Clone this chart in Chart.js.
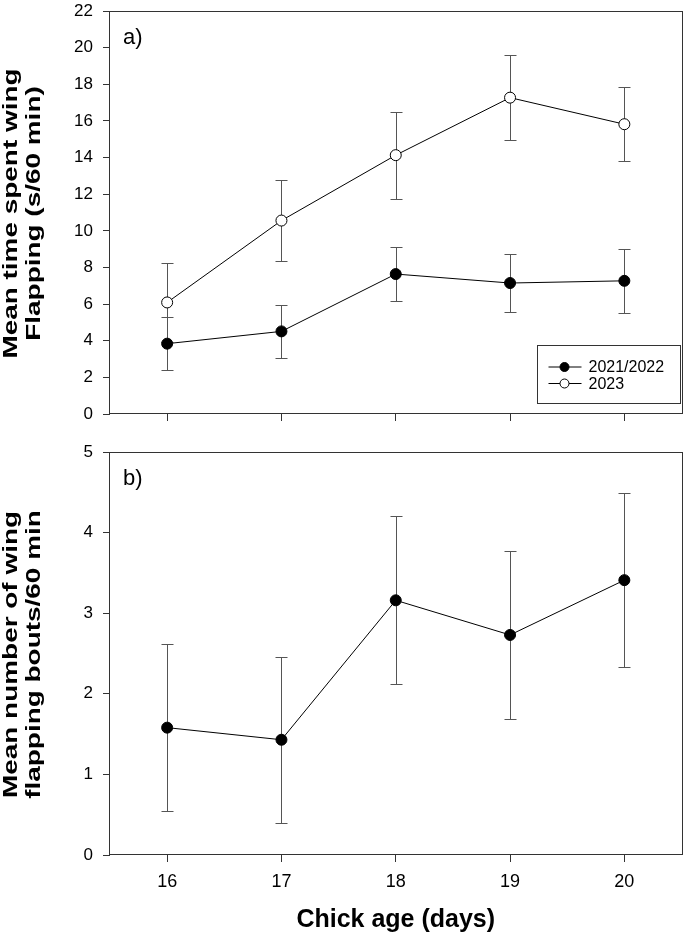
<!DOCTYPE html>
<html>
<head>
<meta charset="utf-8">
<script src="https://cdn.jsdelivr.net/npm/chart.js@4.4.1/dist/chart.umd.min.js"></script>
<style>
  body { margin: 0; background: #fff; }
  #wrap { position: relative; width: 688px; height: 939px; background: #fff; }
  canvas { position: absolute; left: 0; }
</style>
</head>
<body>
<div id="wrap">
  <canvas id="chart-a" width="688" height="440" style="top:0px"></canvas>
  <canvas id="chart-b" width="688" height="499" style="top:440px"></canvas>
</div>
<script>
// chick age (days)
const days = [16, 17, 18, 19, 20];

// panel a: time spent wing flapping (s/60 min), mean and error
const flapTime2122 = [3.84, 4.51, 7.64, 7.15, 7.27];
const flapTime2122Err = [1.45, 1.44, 1.49, 1.56, 1.73];
const flapTime2023 = [6.09, 10.56, 14.13, 17.27, 15.82];
const flapTime2023Err = [2.15, 2.20, 2.38, 2.33, 2.03];

// panel b: number of flapping bouts / 60 min
const bouts = [1.58, 1.43, 3.16, 2.73, 3.41];
const boutsErr = [1.04, 1.03, 1.04, 1.04, 1.08];

const ticksA = [0, 2, 4, 6, 8, 10, 12, 14, 16, 18, 20, 22];
const ticksB = [0, 1, 2, 3, 4, 5];
const seriesNames = ['2021/2022', '2023'];

const toPoints = vals => days.map((d, i) => ({ x: d, y: vals[i] }));

// vertical error bars with caps, drawn under the markers
const errorBars = {
    id: 'errorBars',
    beforeDatasetsDraw(chart) {
        const ctx = chart.ctx;
        const xs = chart.scales.x, ys = chart.scales.y;
        ctx.save();
        ctx.strokeStyle = '#555';
        ctx.lineWidth = 1;
        chart.data.datasets.forEach(ds => {
            ds.data.forEach((pt, i) => {
                const err = ds.errors[i];
                const px = Math.round(xs.getPixelForValue(pt.x)) + 0.5;
                const top = Math.round(ys.getPixelForValue(pt.y + err)) + 0.5;
                const bot = Math.round(ys.getPixelForValue(pt.y - err)) + 0.5;
                ctx.beginPath();
                ctx.moveTo(px, top); ctx.lineTo(px, bot);
                ctx.moveTo(px - 6, top); ctx.lineTo(px + 6, top);
                ctx.moveTo(px - 6, bot); ctx.lineTo(px + 6, bot);
                ctx.stroke();
            });
        });
        ctx.restore();
    }
};

// box round the plot area
const frame = {
    id: 'frame',
    beforeDatasetsDraw(chart) {
        const { left, top, right, bottom } = chart.chartArea;
        const ctx = chart.ctx;
        ctx.save();
        ctx.strokeStyle = '#333';
        ctx.lineWidth = 1;
        ctx.strokeRect(Math.round(left) - 0.5, Math.round(top) + 0.5,
            Math.round(right - left) + 1, Math.round(bottom - top) - 1);
        ctx.restore();
    }
};

// "a)" / "b)" in the corner
const panelLabel = {
    id: 'panelLabel',
    afterDraw(chart, args, opts) {
        const ctx = chart.ctx;
        ctx.save();
        ctx.fillStyle = '#000';
        ctx.font = "22px 'Liberation Sans', Arial, sans-serif";
        ctx.textBaseline = 'alphabetic';
        ctx.fillText(opts.text, chart.chartArea.left + 13, chart.chartArea.top + 33);
        ctx.restore();
    }
};

// two-line bold y title, stretched along its length like the original
const yTitle = {
    id: 'yTitle',
    afterDraw(chart, args, opts) {
        const ctx = chart.ctx;
        const cy = (chart.chartArea.top + chart.chartArea.bottom) / 2;
        ctx.save();
        ctx.fillStyle = '#000';
        ctx.font = "bold 21px 'Liberation Sans', Arial, sans-serif";
        ctx.textAlign = 'center';
        ctx.textBaseline = 'alphabetic';
        opts.lines.forEach((line, i) => {
            ctx.save();
            ctx.translate(17 + i * 23, cy + 1);
            ctx.rotate(-Math.PI / 2);
            ctx.scale(1.33, 1);
            ctx.fillText(line, 0, 0);
            ctx.restore();
        });
        ctx.restore();
    }
};

// boxed legend at the lower right of panel a
const boxLegend = {
    id: 'boxLegend',
    afterDraw(chart, args, opts) {
        if (!opts.show) return;
        const ctx = chart.ctx;
        const { right, bottom } = chart.chartArea;
        const bx = right - 145, by = bottom - 69, bw = 143, bh = 58;
        ctx.save();
        ctx.fillStyle = '#fff';
        ctx.fillRect(bx, by, bw, bh);
        ctx.strokeStyle = '#333';
        ctx.lineWidth = 1;
        ctx.strokeRect(Math.round(bx) + 0.5, Math.round(by) + 0.5, bw, bh);
        ctx.font = "16px 'Liberation Sans', Arial, sans-serif";
        ctx.textBaseline = 'middle';
        chart.data.datasets.forEach((ds, i) => {
            const cy = by + 22 + i * 16.5;
            ctx.strokeStyle = '#000';
            ctx.beginPath();
            ctx.moveTo(bx + 12, cy); ctx.lineTo(bx + 45, cy);
            ctx.stroke();
            ctx.beginPath();
            ctx.arc(bx + 28, cy, 4.5, 0, Math.PI * 2);
            ctx.fillStyle = ds.pointBackgroundColor;
            ctx.fill();
            ctx.stroke();
            ctx.fillStyle = '#000';
            ctx.fillText(ds.label, bx + 52, cy + 1);
        });
        ctx.restore();
    }
};

const tickFont = { family: "'Liberation Sans', Arial, sans-serif", size: 17 };

function makeSeries(label, vals, errs, fill) {
    return {
        label: label,
        data: toPoints(vals),
        errors: errs,
        borderColor: '#000',
        borderWidth: 1,
        pointRadius: 5.5,
        pointHoverRadius: 5.5,
        pointBackgroundColor: fill,
        pointBorderColor: '#000',
        pointBorderWidth: 1,
        tension: 0
    };
}

function makeChart(id, datasets, yTicks, yMax, titleLines, label, showXLabels, xHeight, padTop, showLegend) {
    const ctx = document.querySelector('#' + id).getContext('2d');
    return new Chart(ctx, {
        type: 'line',
        data: { datasets: datasets },
        plugins: [frame, errorBars, panelLabel, yTitle, boxLegend],
        options: {
            responsive: false,
            animation: false,
            layout: { padding: { top: padTop, right: 5, left: 0, bottom: 0 } },
            plugins: {
                legend: { display: false },
                tooltip: { enabled: false },
                panelLabel: { text: label },
                yTitle: { lines: titleLines },
                boxLegend: { show: showLegend }
            },
            scales: {
                x: {
                    type: 'linear',
                    min: 15.5,
                    max: 20.5,
                    afterBuildTicks: scale => { scale.ticks = days.map(v => ({ value: v })); },
                    afterFit: scale => {
                        scale.height = xHeight;
                        scale.paddingLeft = 0;
                        scale.paddingRight = 0;
                    },
                    border: { display: false },
                    grid: { drawOnChartArea: false, drawTicks: true, tickLength: 7, color: '#333' },
                    ticks: {
                        display: showXLabels,
                        color: '#000',
                        padding: 9,
                        font: { family: "'Liberation Sans', Arial, sans-serif", size: 18 }
                    },
                    title: {
                        display: showXLabels,
                        text: 'Chick age (days)',
                        color: '#000',
                        font: { family: "'Liberation Sans', Arial, sans-serif", size: 25, weight: 'bold', lineHeight: 1.2 },
                        padding: { top: 0, bottom: 4 }
                    }
                },
                y: {
                    min: 0,
                    max: yMax,
                    afterBuildTicks: scale => { scale.ticks = yTicks.map(v => ({ value: v })); },
                    afterFit: scale => {
                        scale.width = 110;
                        scale.paddingTop = 0;
                        scale.paddingBottom = 0;
                    },
                    border: { display: false },
                    grid: { drawOnChartArea: false, drawTicks: true, tickLength: 7, color: '#333' },
                    ticks: { color: '#000', padding: 10, font: tickFont },
                    title: { display: false }
                }
            }
        }
    });
}

makeChart('chart-a', [
    makeSeries(seriesNames[0], flapTime2122, flapTime2122Err, '#000'),
    makeSeries(seriesNames[1], flapTime2023, flapTime2023Err, '#fff')
], ticksA, 22, ['Mean time spent wing', 'Flapping (s/60 min)'], 'a)', false, 26, 11, true);

makeChart('chart-b', [
    makeSeries(seriesNames[0], bouts, boutsErr, '#000')
], ticksB, 5, ['Mean number of wing', 'flapping bouts/60 min'], 'b)', true, 84, 12, false);
</script>
</body>
</html>
